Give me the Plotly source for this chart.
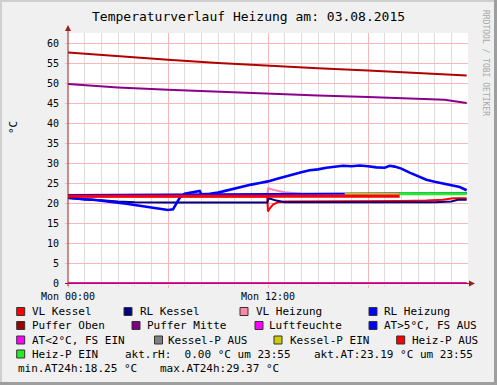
import plotly.graph_objects as go

# ---------------- data (hours since Mon 00:00) ----------------
puffer_oben_t = [0, 3, 6, 9, 12, 15, 18, 21, 23.92]
puffer_oben_v = [57.65, 56.7, 55.8, 55.0, 54.3, 53.7, 53.15, 52.5, 51.9]

puffer_mitte_t = [0, 3, 6, 9, 12, 15, 18, 21, 22.6, 23.3, 23.92]
puffer_mitte_v = [49.75, 48.9, 48.3, 47.8, 47.3, 46.9, 46.5, 46.1, 45.8, 45.4, 45.0]

luftfeuchte_t = [0, 23.92]
luftfeuchte_v = [0.0, 0.0]

at_t = [0, 0.5, 1, 1.5, 2, 2.5, 3, 3.5, 4, 4.5, 5, 5.5, 6, 6.3, 6.5, 6.7, 7, 7.5,
        7.9, 8.0, 8.5, 9, 9.5, 10, 10.5, 11, 11.5, 12, 12.5, 13, 13.5, 14, 14.5,
        15, 15.5, 16, 16.5, 17, 17.5, 18, 18.5, 19, 19.3, 19.6, 20, 20.5, 21,
        21.5, 22, 22.5, 23, 23.5, 23.92]
at_v = [21.4, 21.1, 20.9, 20.8, 20.6, 20.3, 20.1, 19.8, 19.5, 19.1, 18.8, 18.5,
        18.25, 18.4, 19.8, 21.3, 22.3, 22.6, 23.0, 22.2, 22.3, 22.6, 23.1, 23.7,
        24.2, 24.6, 25.0, 25.4, 26.0, 26.6, 27.1, 27.7, 28.2, 28.4, 28.8, 29.1,
        29.3, 29.2, 29.37, 29.2, 28.9, 28.8, 29.3, 29.1, 28.6, 27.6, 26.6, 25.8,
        25.3, 24.9, 24.5, 24.0, 23.19]

vl_kessel_t = [0, 6, 11.95, 12.0, 12.1, 12.3, 12.6, 13, 15, 18, 20, 21.5, 22.5, 23.1, 23.92]
vl_kessel_v = [21.6, 21.6, 21.6, 17.9, 18.6, 19.6, 20.2, 20.4, 20.4, 20.4, 20.5, 20.6, 20.8, 21.2, 21.2]

rl_kessel_t = [0, 1, 2, 3, 4, 6, 11.95, 12.05, 12.5, 13, 18, 22, 23, 23.4, 23.92]
rl_kessel_v = [21.2, 21.0, 20.7, 20.4, 20.2, 20.1, 20.1, 21.2, 20.6, 20.2, 20.15, 20.2, 20.4, 20.8, 20.8]

vl_heizung_t = [0, 11.95, 12.02, 12.5, 13, 14, 16, 23.92]
vl_heizung_v = [21.7, 21.8, 23.7, 23.1, 22.7, 22.3, 22.2, 22.3]

rl_heizung_t = [0, 6, 12, 18, 23.92]
rl_heizung_v = [22.0, 22.1, 22.2, 22.4, 22.5]

kessel_p_ein_t = [16.6, 19.9]
kessel_p_ein_v = [22.3, 22.3]

heiz_p_aus_t = [0, 19.9]
heiz_p_aus_v = [21.7, 21.7]

heiz_p_ein_t = [19.9, 23.92]
heiz_p_ein_v = [22.3, 22.3]

y_ticks = [0, 5, 10, 15, 20, 25, 30, 35, 40, 45, 50, 55, 60]
x_ticks = [0, 6, 12, 18]
x_ticktext = ["Mon 00:00", "", "Mon 12:00", ""]

# ---------------- figure ----------------
W, H = 497, 385
L, R, T, B = 68, 468, 33, 284
MONO = "DejaVu Sans Mono"


def px(xp):
    return (xp - L) / (R - L)


def py(yp):
    return (B - yp) / (B - T)


fig = go.Figure()


def add(t, v, color, width):
    fig.add_trace(go.Scatter(x=t, y=v, mode="lines", line=dict(color=color, width=width),
                             hoverinfo="skip", showlegend=False))


add(vl_kessel_t, vl_kessel_v, "#FF0000", 2)
add(rl_kessel_t, rl_kessel_v, "#000080", 2)
add(vl_heizung_t, vl_heizung_v, "#FF88A8", 2)
add(rl_heizung_t, rl_heizung_v, "#0000FF", 2)
add(puffer_oben_t, puffer_oben_v, "#B00000", 2)
add(puffer_mitte_t, puffer_mitte_v, "#8B008B", 2)
add(luftfeuchte_t, luftfeuchte_v, "#FF00FF", 2)
add(at_t, at_v, "#0000FF", 2.6)
add(kessel_p_ein_t, kessel_p_ein_v, "#C8C800", 2)
add(heiz_p_aus_t, heiz_p_aus_v, "#FF0000", 3)
add(heiz_p_ein_t, heiz_p_ein_v, "#22EE22", 3)

shapes = []
AX = "#9E1F1F"
# axes
shapes.append(dict(type="line", xref="paper", yref="paper", x0=px(68), x1=px(68), y0=py(286), y1=py(28),
                   line=dict(color=AX, width=1)))
shapes.append(dict(type="line", xref="paper", yref="paper", x0=px(65), x1=px(470), y0=py(283.5), y1=py(283.5),
                   line=dict(color=AX, width=1)))
shapes.append(dict(type="path", xref="paper", yref="paper",
                   path=f"M {px(68)} {py(25)} L {px(65)} {py(31)} L {px(71)} {py(31)} Z",
                   fillcolor=AX, line=dict(color=AX, width=0)))
shapes.append(dict(type="path", xref="paper", yref="paper",
                   path=f"M {px(475)} {py(283.5)} L {px(469)} {py(280.5)} L {px(469)} {py(286.5)} Z",
                   fillcolor=AX, line=dict(color=AX, width=0)))
# frame shading
shapes.append(dict(type="line", xref="paper", yref="paper", x0=px(0), x1=px(497), y0=py(1), y1=py(1),
                   line=dict(color="#CFCFCF", width=2)))
shapes.append(dict(type="line", xref="paper", yref="paper", x0=px(1), x1=px(1), y0=py(0), y1=py(385),
                   line=dict(color="#CFCFCF", width=2)))
shapes.append(dict(type="line", xref="paper", yref="paper", x0=px(0), x1=px(497), y0=py(383.5), y1=py(383.5),
                   line=dict(color="#9E9E9E", width=3)))
shapes.append(dict(type="line", xref="paper", yref="paper", x0=px(495.5), x1=px(495.5), y0=py(0), y1=py(385),
                   line=dict(color="#9E9E9E", width=3)))

ann = []


def text(x, y, s, size=11, color="#000000", anchor="left", angle=0):
    ann.append(dict(xref="paper", yref="paper", x=px(x), y=py(y), text=s, showarrow=False,
                    xanchor=anchor, yanchor="middle", textangle=angle,
                    font=dict(family=MONO, size=size, color=color)))


text(248, 16, "Temperaturverlauf Heizung am: 03.08.2015", size=13, anchor="center")
text(13, 127, "°C", size=11, anchor="center", angle=-90)
text(486, 63, "RRDTOOL / TOBI OETIKER", size=8, color="#A8A8A8", anchor="center", angle=90)

legend_rows = [
    (311.5, [(16.7, 30.2, "#FF0000", "VL Kessel"), (124, 137.8, "#000080", "RL Kessel"),
             (240, 253.5, "#FF88A8", "VL Heizung"), (369, 382.2, "#0000FF", "RL Heizung")]),
    (325.5, [(16.7, 30.2, "#A00000", "Puffer Oben"), (132, 145.2, "#800080", "Puffer Mitte"),
             (255, 267.2, "#FF00FF", "Luftfeuchte"), (369, 382.2, "#0000FF", "AT>5°C, FS AUS")]),
    (340, [(16.7, 30.2, "#FF00FF", "AT<2°C, FS EIN"), (154.5, 166.2, "#808080", "Kessel-P AUS"),
           (274, 287.8, "#CCCC00", "Kessel-P EIN"), (396.7, 410.2, "#FF0000", "Heiz-P AUS")]),
    (354, [(16.7, 30.2, "#22EE22", "Heiz-P EIN")]),
]
for yrow, items in legend_rows:
    for bx, tx, col, lab in items:
        shapes.append(dict(type="rect", xref="paper", yref="paper", x0=px(bx), x1=px(bx + 8),
                           y0=py(yrow - 4), y1=py(yrow + 4), fillcolor=col,
                           line=dict(color="#333333", width=1)))
        text(tx, yrow, lab)

text(123, 354, "akt.rH:\u00a0\u00a00.00 °C um 23:55")
text(311.8, 354, "akt.AT:23.19 °C um 23:55")
text(16.2, 368, "min.AT24h:18.25 °C")
text(157.8, 368, "max.AT24h:29.37 °C")

fig.update_layout(
    width=W, height=H,
    margin=dict(l=L, r=W - R, t=T, b=H - B, pad=0),
    paper_bgcolor="#F0F0F0", plot_bgcolor="#FFFFFF",
    showlegend=False,
    shapes=shapes, annotations=ann,
    xaxis=dict(range=[0, 24], tickmode="array", tickvals=x_ticks, ticktext=x_ticktext,
               showgrid=True, gridcolor="#F4B8B8", gridwidth=1, zeroline=False, showline=False,
               ticks="outside", ticklen=3, tickcolor="#F4B8B8",
               minor=dict(dtick=1, tick0=0, showgrid=True, gridcolor="#DEDEDE", ticks="outside",
                          ticklen=2, tickcolor="#DEDEDE"),
               tickfont=dict(family=MONO, size=10, color="#000000"), fixedrange=True),
    yaxis=dict(range=[-0.25, 62.5], tickmode="array", tickvals=y_ticks,
               ticktext=[str(v) for v in y_ticks],
               showgrid=True, gridcolor="#F4B8B8", gridwidth=1, zeroline=False, showline=False,
               ticks="outside", ticklen=2, tickcolor="#F4B8B8", ticklabelstandoff=4,
               tickfont=dict(family=MONO, size=10, color="#000000"), fixedrange=True),
    font=dict(family=MONO),
)

fig.write_html("out.html", config={"displayModeBar": False, "staticPlot": True},
               post_script="document.body.style.margin='0';document.body.style.overflow='hidden';")
